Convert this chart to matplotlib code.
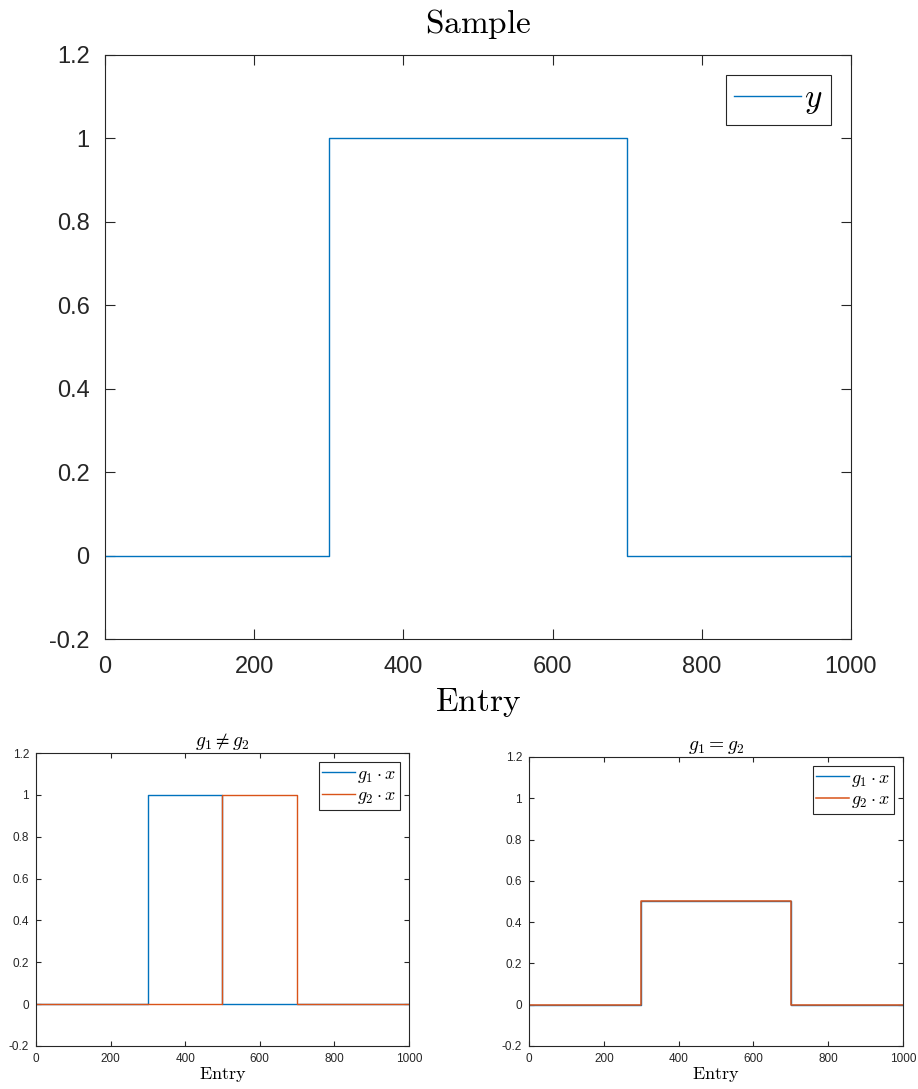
import numpy as np
import matplotlib.pyplot as plt

plt.rcParams['mathtext.fontset'] = 'cm'
plt.rcParams['font.family'] = ['Liberation Sans', 'DejaVu Sans']

# step signals: breakpoints (entry) and levels
y_x = [0, 300, 300, 700, 700, 1000]
y_v = [0, 0, 1, 1, 0, 0]

g1_x = [0, 300, 300, 500, 500, 1000]
g1_v = [0, 0, 1, 1, 0, 0]
g2_x = [0, 500, 500, 700, 700, 1000]
g2_v = [0, 0, 1, 1, 0, 0]

h1_x = [0, 300, 300, 700, 700, 1000]
h1_v = [0, 0, 0.5, 0.5, 0, 0]
h2_x = [0, 300, 300, 700, 700, 1000]
h2_v = [0, 0, 0.5, 0.5, 0, 0]

blue = '#0072BD'
orange = '#D95319'
dark = '#262626'

xticks = [0, 200, 400, 600, 800, 1000]
yticks = [-0.2, 0, 0.2, 0.4, 0.6, 0.8, 1, 1.2]
yticklabels = ['-0.2', '0', '0.2', '0.4', '0.6', '0.8', '1', '1.2']


def style(ax, tick_fs, tick_len, xpad, ypad):
    ax.set_xlim(0, 1000)
    ax.set_ylim(-0.2, 1.2)
    ax.set_xticks(xticks)
    ax.set_yticks(yticks)
    ax.set_yticklabels(yticklabels)
    ax.tick_params(direction='in', top=True, right=True, length=tick_len,
                   width=0.8, color=dark, labelcolor=dark,
                   labelsize=tick_fs)
    ax.tick_params(axis='x', pad=xpad)
    ax.tick_params(axis='y', pad=ypad)
    for s in ax.spines.values():
        s.set_color(dark)
        s.set_linewidth(0.8)


fig = plt.figure(figsize=(9.18, 10.89), dpi=100)

ax = fig.add_axes([0.1144, 0.4132, 0.8126, 0.5363])
ax.plot(y_x, y_v, c=blue, lw=1.0, label=r'$y$')
style(ax, 17, 7, 12, 11)
ax.set_title(r'$\mathrm{Sample}$', fontsize=24, pad=16)
ax.set_xlabel(r'$\mathrm{Entry}$', fontsize=24, labelpad=6)
ax.legend(loc='upper right', fontsize=24, handlelength=2.0, handletextpad=0.1,
          borderpad=0.25, borderaxespad=0.6, fancybox=False,
          edgecolor=dark, framealpha=1).get_frame().set_linewidth(0.8)

ax2 = fig.add_axes([0.0392, 0.0395, 0.4063, 0.2690])
ax2.plot(g1_x, g1_v, c=blue, lw=1.0, label=r'$g_1\cdot x$')
ax2.plot(g2_x, g2_v, c=orange, lw=1.0, label=r'$g_2\cdot x$')
style(ax2, 8.5, 3.5, 5, 5)
ax2.set_title(r'$g_1\neq g_2$', fontsize=14, pad=5)
ax2.set_xlabel(r'$\mathrm{Entry}$', fontsize=13, labelpad=0)
ax2.legend(loc='upper right', fontsize=13, handlelength=1.8, handletextpad=0.15,
           borderpad=0.2, labelspacing=0.15, borderaxespad=0.5, fancybox=False,
           edgecolor=dark, framealpha=1).get_frame().set_linewidth(0.8)

ax3 = fig.add_axes([0.5763, 0.0395, 0.4074, 0.2654])
ax3.plot(h1_x, h1_v, c=blue, lw=1.0, label=r'$g_1\cdot x$')
ax3.plot(h2_x, h2_v, c=orange, lw=1.1, label=r'$g_2\cdot x$')
style(ax3, 8.5, 3.5, 5, 5)
ax3.set_title(r'$g_1=g_2$', fontsize=14, pad=5)
ax3.set_xlabel(r'$\mathrm{Entry}$', fontsize=13, labelpad=0)
ax3.legend(loc='upper right', fontsize=13, handlelength=1.8, handletextpad=0.15,
           borderpad=0.2, labelspacing=0.15, borderaxespad=0.5, fancybox=False,
           edgecolor=dark, framealpha=1).get_frame().set_linewidth(0.8)

fig.savefig('out.png', dpi=100)
